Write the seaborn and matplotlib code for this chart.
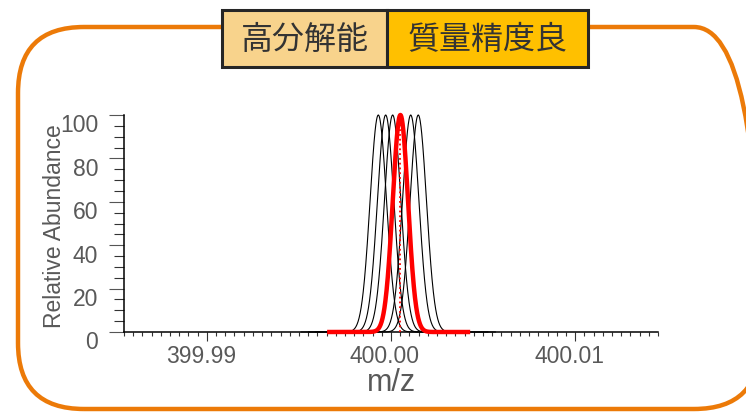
import numpy as np
import pandas as pd
import matplotlib
matplotlib.use("Agg")
import matplotlib.pyplot as plt
import seaborn as sns
from matplotlib import transforms as mtransforms
from matplotlib.patches import FancyBboxPatch, Rectangle
from matplotlib.ticker import FixedLocator

# ---------------- data ----------------
black_centers = [399.99931, 399.99971, 400.00009, 400.00107, 400.00148]
black_heights = [100, 100, 100, 100, 100]
black_sigma = 0.000446
black_halfspan = 0.0042

red_center = 400.00051
red_height = 100
red_sigma = 0.000413
red_span = (-0.00398, 0.00379)

x_major_ticks = [399.99, 400.00, 400.01]
x_tick_labels = ["399.99", "400.00", "400.01"]
y_major_ticks = [0, 20, 40, 60, 80, 100]
y_tick_labels = ["0", "20", "40", "60", "80", "100"]
x_limits = (399.9855, 400.0145)
y_limits = (0, 100)

header_labels = ["高分解能", "質量精度良"]
x_label = "m/z"
y_label = "Relative Abundance"

# ---------------- style ----------------
sns.set_style("ticks")
plt.rcParams["font.family"] = ["Liberation Sans", "Noto Sans CJK JP", "DejaVu Sans"]

W, H = 746, 414
fig = plt.figure(figsize=(W / 100, H / 100), dpi=100)
fig.patch.set_facecolor("white")
px = mtransforms.Affine2D().scale(1 / W, 1 / H) + fig.transFigure

ax = fig.add_axes([124 / W, 81 / H, 534 / W, 217 / H])
ax.set_facecolor("none")


def profile(center, height, sigma, lo, hi):
    x = np.linspace(center + lo, center + hi, 600)
    y = height * np.exp(-0.5 * ((x - center) / sigma) ** 2)
    return pd.DataFrame({"mz": x, "abundance": y})


for c, h in zip(black_centers, black_heights):
    df = profile(c, h, black_sigma, -black_halfspan, black_halfspan)
    sns.lineplot(data=df, x="mz", y="abundance", ax=ax, color="black",
                 lw=0.8, sort=False, estimator=None, clip_on=False, zorder=3)

df_red = profile(red_center, red_height, red_sigma, red_span[0], red_span[1])
sns.lineplot(data=df_red, x="mz", y="abundance", ax=ax, color="#FF0000",
             lw=3.2, sort=False, estimator=None, clip_on=False, zorder=4,
             solid_capstyle="butt")
ax.vlines(red_center, 0, red_height, colors="#FF0000", linestyles=":",
          lw=1.3, zorder=5, clip_on=False)

ax.set_xlim(*x_limits)
ax.set_ylim(*y_limits)

# spines
for s in ["top", "right"]:
    ax.spines[s].set_visible(False)
for s in ["left", "bottom"]:
    ax.spines[s].set_color("black")
    ax.spines[s].set_linewidth(1.1)

# ticks
ax.set_xticks(x_major_ticks)
ax.set_xticklabels(x_tick_labels)
minor_x = np.round(np.arange(x_limits[0], x_limits[1] + 1e-7, 0.0005), 5)
ax.xaxis.set_minor_locator(FixedLocator(minor_x))
ax.set_yticks(y_major_ticks)
ax.set_yticklabels(y_tick_labels)
ax.yaxis.set_minor_locator(FixedLocator(np.arange(0, 101, 5)))

ax.tick_params(axis="x", which="major", direction="out", length=6.5, width=0.8,
               color="#333333", pad=2, labelsize=16.5, labelcolor="#595959")
ax.tick_params(axis="x", which="minor", direction="out", length=2.6, width=0.8,
               color="#333333")
ax.tick_params(axis="y", which="major", direction="out", length=10.5, width=0.8,
               color="#555555", pad=8, labelsize=16.5, labelcolor="#595959")
ax.tick_params(axis="y", which="minor", direction="out", length=7, width=0.8,
               color="#333333")

xoff = mtransforms.ScaledTranslation(-6 / 100, 0, fig.dpi_scale_trans)
for lbl in ax.get_xticklabels():
    lbl.set_transform(lbl.get_transform() + xoff)
yoff = mtransforms.ScaledTranslation(0, -7.5 / 100, fig.dpi_scale_trans)
for lbl in ax.get_yticklabels():
    lbl.set_transform(lbl.get_transform() + yoff)

ax.set_xlabel("")
ax.set_ylabel("")
fig.text(392, H - 391, x_label, transform=px, ha="center", va="baseline",
         fontsize=22, color="#595959")
fig.text(55, H - 225.7, y_label, transform=px, ha="center", va="center",
         rotation=90, fontsize=16.5, color="#595959")

# ---------------- decorations ----------------
border = FancyBboxPatch((18, 4), 760 - 18, 386 - 4,
                        boxstyle="round,pad=0,rounding_size=66",
                        transform=px, fc="none", ec="#EC7A08", lw=3.2, zorder=1)
fig.add_artist(border)

box_top, box_bot = 10.7, 68.3
boxes = [(221.7, 387.3, "#F8D38C"), (387.3, 587.7, "#FFC000")]
for (x0, x1, fc), txt in zip(boxes, header_labels):
    r = Rectangle((x0, H - box_bot), x1 - x0, box_bot - box_top, transform=px,
                  fc=fc, ec="#262626", lw=2.2, zorder=6)
    fig.add_artist(r)
    fig.text((x0 + x1) / 2, H - (box_top + box_bot) / 2, txt, transform=px,
             ha="center", va="center", fontsize=23, color="#333333",
             family=["Noto Sans CJK JP", "DejaVu Sans"], zorder=7)

fig.savefig("out.png", dpi=100)
